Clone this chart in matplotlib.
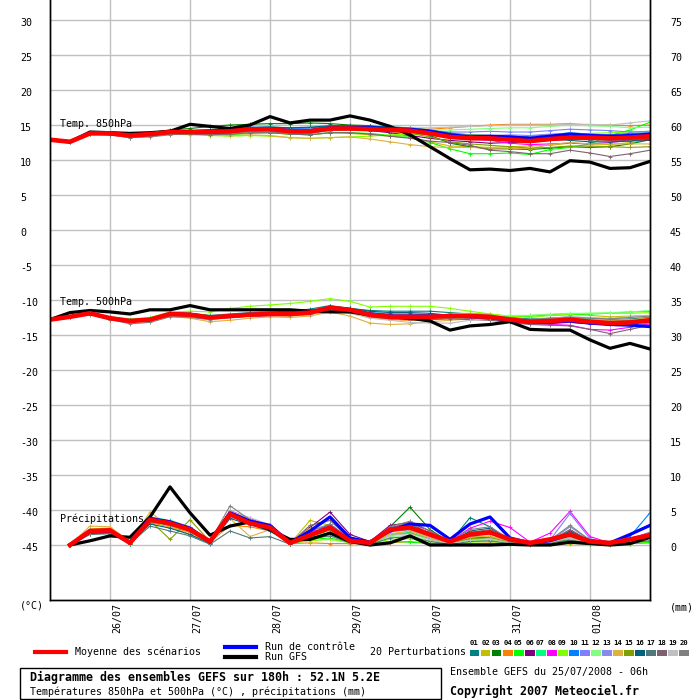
import matplotlib
matplotlib.use('Agg')
import matplotlib.pyplot as plt
from matplotlib.lines import Line2D
from matplotlib.patches import Rectangle
from matplotlib.transforms import ScaledTranslation

plt.rcParams['font.family'] = ['DejaVu Sans Mono']
plt.rcParams['axes.unicode_minus'] = False

# echeances en heures depuis le 25/07/2008 06h
hours = list(range(0, 181, 6))
hours_rr = hours[1:]
days = ['26/07', '27/07', '28/07', '29/07', '30/07', '31/07', '01/08']

colors = ['#008080', '#c0c000', '#008000', '#ff8000', '#00ff00', '#800080', '#00ff80',
          '#ff00ff', '#80ff00', '#0080ff', '#8080ff', '#80ff80', '#8888ee', '#e0b040',
          '#80a000', '#006080', '#507878', '#806070', '#c0c0c0', '#808080']

# --- 850 hPa (°C)
t850_mean = [12.9, 12.6, 13.8, 13.8, 13.5, 13.7, 14.0, 14.0, 14.0, 14.1, 14.4, 14.4, 14.1, 14.1, 14.5, 14.5,
             14.4, 14.3, 14.2, 13.8, 13.3, 13.1, 13.1, 12.9, 12.7, 13.0, 13.2, 13.2, 13.1, 13.2, 13.4]
t850_ctrl = [12.9, 12.6, 13.8, 13.8, 13.5, 13.7, 14.0, 14.0, 14.1, 14.2, 14.4, 14.5, 14.2, 14.2, 14.6, 14.6,
             14.6, 14.5, 14.4, 14.1, 13.6, 13.3, 13.4, 13.3, 13.1, 13.4, 13.7, 13.5, 13.4, 13.5, 13.7]
t850_gfs = [12.9, 12.6, 14.0, 13.9, 13.8, 13.9, 14.1, 15.1, 14.8, 14.5, 15.0, 16.2, 15.3, 15.7, 15.7, 16.3,
            15.7, 14.8, 13.6, 11.9, 10.2, 8.6, 8.7, 8.5, 8.8, 8.3, 9.9, 9.7, 8.8, 8.9, 9.8]
t850_pert = [
    [12.9, 12.7, 13.9, 13.9, 13.6, 13.8, 14.1, 14.2, 14.3, 14.4, 14.6, 14.7, 14.6, 14.6, 14.8, 14.9, 14.8, 14.7, 14.6, 14.3, 13.8, 13.6, 13.5, 13.3, 13.1, 13.3, 13.4, 13.2, 12.9, 12.8, 13.0],
    [12.9, 12.6, 13.8, 13.7, 13.4, 13.6, 13.9, 13.8, 13.7, 13.8, 14.0, 13.9, 13.7, 13.6, 13.9, 13.8, 13.6, 13.4, 13.2, 12.6, 12.0, 11.9, 11.8, 11.9, 12.0, 12.1, 12.4, 12.3, 12.2, 12.5, 12.9],
    [12.9, 12.7, 13.9, 13.9, 13.7, 13.9, 14.3, 14.5, 14.8, 15.0, 15.1, 15.2, 15.2, 15.3, 15.2, 15.0, 14.9, 14.6, 14.3, 13.5, 12.4, 11.9, 11.6, 11.6, 11.5, 11.7, 11.9, 11.8, 11.9, 12.3, 12.9],
    [12.9, 12.6, 13.8, 13.8, 13.5, 13.6, 13.9, 13.9, 13.8, 13.9, 14.2, 14.3, 14.2, 14.3, 14.5, 14.6, 14.6, 14.5, 14.4, 14.4, 14.6, 14.8, 15.0, 15.1, 15.1, 15.1, 15.2, 15.0, 15.0, 14.9, 15.0],
    [12.9, 12.6, 13.8, 13.8, 13.5, 13.6, 13.8, 13.9, 13.8, 13.6, 13.8, 13.9, 13.7, 13.6, 13.9, 13.9, 13.8, 13.5, 13.4, 12.5, 11.6, 10.9, 10.9, 11.0, 10.8, 11.5, 11.8, 12.3, 13.5, 14.3, 15.4],
    [12.9, 12.7, 13.8, 13.8, 13.5, 13.7, 14.0, 14.0, 14.1, 14.2, 14.5, 14.5, 14.3, 14.3, 14.5, 14.4, 14.2, 13.9, 13.5, 13.1, 12.8, 12.6, 12.4, 12.5, 12.6, 12.8, 13.0, 12.9, 13.0, 12.8, 12.9],
    [12.9, 12.6, 13.8, 13.8, 13.6, 13.8, 14.1, 14.1, 14.2, 14.2, 14.4, 14.4, 14.2, 14.2, 14.5, 14.5, 14.4, 14.3, 14.3, 14.2, 13.9, 13.6, 13.4, 13.2, 13.0, 13.3, 13.5, 13.6, 13.4, 13.3, 13.5],
    [12.9, 12.7, 13.8, 13.9, 13.6, 13.8, 14.0, 14.0, 14.1, 14.3, 14.5, 14.6, 14.4, 14.3, 14.7, 14.8, 14.7, 14.5, 14.4, 14.0, 13.4, 13.0, 12.8, 12.4, 12.2, 12.3, 12.4, 12.3, 12.5, 12.8, 13.0],
    [12.9, 12.6, 13.7, 13.7, 13.4, 13.5, 13.7, 13.6, 13.5, 13.4, 13.5, 13.4, 13.2, 13.1, 13.2, 13.3, 13.4, 13.6, 13.7, 13.6, 13.4, 13.3, 13.4, 13.5, 13.4, 13.6, 13.7, 13.8, 13.9, 14.0, 14.1],
    [12.9, 12.7, 13.9, 13.9, 13.6, 13.8, 14.1, 14.2, 14.3, 14.4, 14.7, 14.7, 14.5, 14.5, 14.8, 14.8, 14.7, 14.6, 14.5, 14.1, 13.6, 13.3, 13.3, 13.2, 13.4, 13.6, 13.9, 13.7, 13.6, 13.8, 13.9],
    [12.9, 12.6, 13.8, 13.8, 13.5, 13.7, 14.0, 14.1, 14.1, 14.2, 14.5, 14.6, 14.4, 14.4, 14.7, 14.7, 14.6, 14.5, 14.4, 14.2, 14.0, 14.0, 14.1, 14.0, 14.0, 14.2, 14.4, 14.3, 14.2, 14.0, 14.1],
    [12.9, 12.6, 13.8, 13.7, 13.4, 13.6, 13.9, 13.9, 13.9, 14.0, 14.2, 14.2, 14.0, 14.0, 14.3, 14.3, 14.3, 14.3, 14.4, 14.3, 14.3, 14.4, 14.5, 14.6, 14.6, 14.8, 15.0, 14.9, 14.8, 14.6, 14.7],
    [12.9, 12.7, 13.8, 13.8, 13.6, 13.7, 14.0, 14.1, 14.1, 14.2, 14.4, 14.5, 14.3, 14.3, 14.6, 14.6, 14.5, 14.4, 14.2, 13.9, 13.6, 13.4, 13.5, 13.6, 13.5, 13.7, 13.8, 13.7, 13.5, 13.6, 13.7],
    [12.9, 12.6, 13.7, 13.7, 13.3, 13.5, 13.7, 13.8, 13.6, 13.5, 13.6, 13.5, 13.2, 13.1, 13.2, 13.3, 13.0, 12.6, 12.2, 11.9, 11.8, 11.8, 11.7, 11.7, 11.6, 12.2, 12.5, 12.3, 12.3, 12.3, 12.3],
    [12.9, 12.6, 13.8, 13.8, 13.5, 13.6, 13.9, 14.0, 13.9, 14.0, 14.3, 14.2, 14.1, 14.1, 14.4, 14.5, 14.4, 14.1, 13.8, 13.3, 12.6, 12.3, 12.1, 11.9, 11.7, 11.8, 12.0, 12.0, 11.9, 11.8, 11.9],
    [12.9, 12.7, 13.9, 13.9, 13.6, 13.8, 14.1, 14.2, 14.3, 14.4, 14.6, 14.7, 14.6, 14.7, 14.9, 14.9, 14.8, 14.7, 14.6, 14.3, 13.8, 13.5, 13.2, 13.1, 12.9, 13.0, 12.8, 12.6, 12.6, 12.7, 13.0],
    [12.9, 12.6, 13.8, 13.7, 13.4, 13.6, 13.9, 14.0, 14.0, 14.0, 14.3, 14.3, 14.1, 14.0, 14.3, 14.4, 14.3, 14.2, 14.0, 13.6, 13.2, 13.0, 12.9, 12.8, 12.6, 12.8, 13.0, 12.9, 12.8, 12.9, 13.1],
    [12.9, 12.6, 13.7, 13.6, 13.2, 13.4, 13.7, 13.7, 13.6, 13.7, 13.9, 13.9, 13.7, 13.6, 13.9, 13.9, 13.7, 13.4, 13.1, 12.7, 12.5, 12.1, 11.4, 11.2, 10.9, 10.9, 11.4, 11.0, 10.5, 10.9, 11.4],
    [12.9, 12.6, 13.8, 13.8, 13.5, 13.6, 13.9, 13.9, 14.0, 14.1, 14.3, 14.4, 14.3, 14.4, 14.6, 14.6, 14.6, 14.6, 14.6, 14.6, 14.7, 14.8, 14.9, 15.0, 15.0, 15.0, 15.1, 15.1, 15.0, 15.3, 15.6],
    [12.9, 12.6, 13.7, 13.6, 13.2, 13.3, 13.6, 13.8, 13.7, 13.8, 14.1, 14.0, 13.8, 13.8, 14.2, 14.3, 14.3, 14.2, 14.1, 13.9, 13.7, 13.6, 13.5, 13.3, 13.2, 13.4, 13.5, 13.4, 13.4, 13.5, 13.6],
]

# --- 500 hPa (°C)
t500_mean = [-12.8, -12.4, -11.9, -12.6, -13.0, -12.8, -12.0, -12.1, -12.5, -12.3, -12.1, -12.0, -12.0, -11.8, -11.1, -11.4,
             -12.1, -12.4, -12.4, -12.4, -12.3, -12.3, -12.4, -12.8, -13.1, -13.0, -12.8, -13.1, -13.3, -13.2, -12.9]
t500_ctrl = [-12.8, -12.4, -11.9, -12.6, -13.0, -12.8, -12.0, -12.1, -12.5, -12.3, -12.1, -12.0, -12.0, -11.8, -11.1, -11.4,
             -12.0, -12.3, -12.3, -12.3, -12.3, -12.4, -12.5, -12.9, -13.2, -13.2, -13.0, -13.3, -13.5, -13.6, -13.8]
t500_gfs = [-12.8, -11.8, -11.5, -11.7, -12.0, -11.4, -11.4, -10.8, -11.4, -11.4, -11.4, -11.4, -11.4, -11.6, -11.7, -11.7,
            -12.1, -12.4, -12.6, -13.0, -14.3, -13.7, -13.5, -13.1, -14.2, -14.3, -14.3, -15.7, -16.9, -16.2, -17.0]
t500_pert = [
    [-12.8, -12.4, -11.9, -12.5, -12.8, -12.6, -11.8, -11.9, -12.2, -12.0, -11.8, -11.7, -11.6, -11.3, -10.8, -11.2, -11.5, -11.6, -11.6, -11.6, -11.8, -12.0, -12.2, -12.5, -12.7, -12.6, -12.4, -12.6, -12.8, -12.7, -12.5],
    [-12.8, -12.4, -12.0, -12.7, -13.1, -12.9, -12.2, -12.3, -12.6, -12.4, -12.3, -12.2, -12.3, -12.1, -11.5, -11.8, -12.4, -12.6, -12.5, -12.3, -12.0, -11.9, -12.0, -12.4, -12.2, -12.1, -12.0, -12.2, -12.4, -12.3, -12.2],
    [-12.8, -12.4, -11.9, -12.6, -12.9, -12.7, -12.0, -12.0, -12.4, -12.2, -12.0, -11.9, -11.8, -11.6, -11.0, -11.3, -11.9, -12.2, -12.3, -12.2, -12.5, -12.7, -12.8, -13.0, -13.0, -12.9, -12.8, -13.0, -13.2, -13.1, -12.9],
    [-12.8, -12.4, -12.0, -12.7, -13.0, -12.9, -12.1, -12.2, -12.6, -12.4, -12.2, -12.1, -12.1, -11.9, -11.2, -11.7, -12.5, -12.8, -12.9, -12.8, -12.6, -12.5, -12.4, -12.7, -12.9, -12.8, -12.7, -13.0, -13.1, -13.0, -12.8],
    [-12.8, -12.3, -11.9, -12.5, -12.8, -12.7, -12.0, -12.1, -12.4, -12.2, -12.1, -12.0, -11.9, -11.7, -11.1, -11.4, -12.0, -12.3, -12.4, -12.2, -12.1, -12.2, -12.4, -12.4, -12.3, -12.2, -12.1, -12.0, -11.9, -11.7, -11.6],
    [-12.8, -12.4, -11.9, -12.6, -13.0, -12.8, -12.1, -12.2, -12.5, -12.3, -12.2, -12.1, -12.0, -11.9, -11.3, -11.6, -12.2, -12.5, -12.6, -12.5, -12.5, -12.6, -12.7, -13.0, -13.3, -13.3, -13.2, -13.4, -13.5, -13.4, -13.2],
    [-12.8, -12.4, -11.9, -12.5, -12.9, -12.7, -12.0, -12.0, -12.3, -12.1, -12.0, -11.9, -11.9, -11.7, -11.0, -11.3, -12.0, -12.3, -12.2, -12.1, -12.2, -12.3, -12.4, -12.6, -12.9, -12.7, -12.5, -12.7, -12.9, -12.9, -12.7],
    [-12.8, -12.4, -11.9, -12.6, -13.0, -12.8, -12.0, -12.1, -12.4, -12.2, -12.1, -12.0, -12.0, -11.8, -11.2, -11.5, -12.0, -12.2, -12.3, -12.4, -12.5, -12.6, -12.7, -13.0, -13.4, -13.5, -13.6, -14.2, -14.3, -13.9, -13.4],
    [-12.8, -12.3, -11.8, -12.4, -12.7, -12.5, -11.7, -11.6, -11.7, -11.2, -10.9, -10.7, -10.5, -10.2, -9.8, -10.2, -11.0, -10.9, -10.9, -10.9, -11.2, -11.6, -12.0, -12.3, -12.5, -12.2, -12.0, -11.9, -11.9, -11.9, -11.8],
    [-12.8, -12.4, -11.9, -12.5, -12.9, -12.7, -12.0, -12.0, -12.4, -12.2, -12.0, -11.9, -11.8, -11.6, -11.0, -11.3, -11.8, -12.0, -12.0, -12.1, -12.3, -12.4, -12.5, -12.8, -13.1, -13.1, -13.0, -13.2, -13.4, -13.3, -13.1],
    [-12.8, -12.4, -12.0, -12.7, -13.1, -12.9, -12.2, -12.3, -12.6, -12.5, -12.3, -12.2, -12.2, -12.0, -11.4, -11.7, -12.3, -12.6, -12.7, -12.7, -12.6, -12.5, -12.6, -12.9, -13.2, -13.2, -13.1, -13.3, -13.6, -13.5, -13.3],
    [-12.8, -12.4, -11.9, -12.5, -12.8, -12.6, -11.9, -12.0, -12.3, -12.1, -11.9, -11.8, -11.8, -11.6, -11.0, -11.3, -12.0, -12.4, -12.5, -12.6, -12.7, -12.6, -12.3, -12.2, -12.2, -12.0, -11.9, -11.9, -11.8, -11.7, -11.5],
    [-12.8, -12.4, -11.9, -12.6, -13.0, -12.8, -12.0, -12.1, -12.5, -12.3, -12.1, -12.0, -11.9, -11.8, -11.1, -11.4, -12.0, -12.3, -12.3, -12.2, -12.2, -12.3, -12.4, -12.8, -13.0, -12.9, -12.8, -13.0, -13.2, -13.1, -12.9],
    [-12.8, -12.5, -12.0, -12.8, -13.2, -13.0, -12.3, -12.6, -13.1, -12.9, -12.6, -12.4, -12.5, -12.3, -11.7, -12.3, -13.3, -13.5, -13.4, -13.1, -12.9, -12.7, -12.5, -12.6, -12.9, -12.8, -12.6, -12.8, -12.9, -12.8, -12.6],
    [-12.8, -12.4, -12.0, -12.6, -13.0, -12.8, -12.1, -12.2, -12.5, -12.3, -12.2, -12.1, -12.1, -11.9, -11.3, -11.6, -12.2, -12.4, -12.4, -12.4, -12.3, -12.3, -12.4, -12.7, -13.0, -12.9, -12.7, -12.9, -13.1, -13.0, -12.8],
    [-12.8, -12.4, -11.9, -12.5, -12.8, -12.7, -11.9, -11.9, -12.3, -12.1, -11.9, -11.8, -11.7, -11.5, -10.9, -11.2, -11.6, -11.8, -11.8, -11.9, -12.2, -12.4, -12.6, -12.9, -13.0, -12.9, -12.9, -13.1, -13.3, -13.2, -13.0],
    [-12.8, -12.4, -12.0, -12.7, -13.1, -12.9, -12.2, -12.3, -12.6, -12.4, -12.3, -12.2, -12.2, -12.0, -11.4, -11.7, -12.3, -12.5, -12.5, -12.5, -12.4, -12.4, -12.5, -12.8, -13.1, -13.0, -12.9, -13.1, -13.3, -13.1, -12.9],
    [-12.8, -12.4, -12.0, -12.7, -13.1, -12.9, -12.2, -12.3, -12.7, -12.5, -12.3, -12.2, -12.2, -12.0, -11.4, -11.8, -12.4, -12.7, -12.8, -12.8, -12.7, -12.8, -12.9, -13.2, -13.5, -13.6, -13.7, -14.2, -14.8, -14.2, -13.6],
    [-12.8, -12.4, -12.0, -12.7, -13.1, -12.9, -12.2, -12.3, -12.6, -12.4, -12.3, -12.2, -12.2, -12.1, -11.5, -11.9, -12.6, -12.9, -13.2, -13.3, -13.3, -12.9, -12.6, -12.7, -12.8, -12.6, -12.4, -12.5, -12.6, -12.4, -12.2],
    [-12.8, -12.5, -12.1, -12.8, -13.4, -13.2, -12.4, -12.5, -12.8, -12.5, -12.3, -12.2, -12.2, -12.0, -11.3, -11.6, -12.2, -12.4, -12.4, -12.3, -12.2, -12.2, -12.3, -12.6, -12.8, -12.6, -12.5, -12.6, -12.7, -12.5, -12.3],
]

# --- precipitations (mm / 6h)
rr_mean = [0.0, 2.0, 2.1, 0.3, 3.6, 3.1, 2.2, 0.5, 4.4, 3.1, 2.5, 0.3, 1.4, 2.5, 0.6,
           0.3, 2.2, 2.5, 1.5, 0.5, 1.5, 1.8, 0.8, 0.3, 0.8, 1.5, 0.5, 0.3, 0.8, 1.4]
rr_ctrl = [0.0, 1.9, 2.0, 0.4, 3.8, 3.3, 2.4, 0.4, 4.6, 3.4, 2.8, 0.3, 2.0, 4.0, 1.0,
           0.4, 2.0, 3.0, 2.8, 0.8, 3.0, 4.0, 1.0, 0.3, 0.6, 1.5, 0.6, 0.3, 1.5, 2.8]
rr_gfs = [0.0, 0.6, 1.3, 1.1, 4.0, 8.3, 4.6, 1.4, 2.7, 3.3, 2.2, 0.8, 0.8, 1.7, 0.5,
          0.0, 0.3, 1.3, 0.0, 0.0, 0.0, 0.0, 0.1, 0.0, 0.0, 0.4, 0.2, 0.0, 0.2, 1.1]
rr_pert = [
    [0.0, 1.8, 1.9, 0.3, 3.5, 3.0, 2.0, 0.3, 4.2, 3.0, 2.2, 0.2, 1.2, 2.6, 0.4, 0.2, 2.4, 2.8, 1.5, 0.4, 3.9, 2.6, 0.6, 0.2, 0.5, 1.4, 0.4, 0.2, 0.6, 1.2],
    [0.0, 2.3, 2.4, 0.4, 3.8, 2.8, 1.8, 0.4, 4.8, 3.6, 2.6, 0.2, 3.5, 2.8, 0.6, 0.3, 2.0, 2.2, 1.0, 0.3, 1.0, 1.2, 0.5, 0.2, 0.6, 2.0, 0.6, 0.3, 0.8, 1.0],
    [0.0, 1.7, 1.8, 0.2, 3.3, 2.9, 2.3, 0.5, 4.6, 3.4, 2.4, 0.3, 1.0, 2.2, 0.4, 0.2, 2.6, 5.4, 2.2, 0.4, 1.2, 1.0, 0.3, 0.1, 0.4, 0.8, 0.2, 0.1, 0.4, 0.8],
    [0.0, 2.2, 2.2, 0.3, 3.2, 2.6, 1.8, 0.4, 2.8, 2.6, 2.0, 0.2, 0.3, 0.2, 0.2, 0.1, 0.3, 0.5, 0.2, 0.1, 0.2, 0.3, 0.2, 0.1, 0.1, 0.2, 0.2, 0.1, 0.2, 0.3],
    [0.0, 1.8, 2.0, 0.3, 3.6, 3.2, 2.4, 0.5, 4.5, 3.3, 2.6, 0.2, 0.8, 1.0, 0.3, 0.2, 0.5, 0.4, 0.2, 0.1, 0.2, 0.2, 0.1, 0.0, 0.2, 0.3, 0.1, 0.0, 0.2, 0.4],
    [0.0, 1.9, 2.0, 0.3, 3.7, 3.2, 2.5, 0.4, 4.4, 3.2, 2.4, 0.2, 2.5, 4.7, 1.5, 0.5, 2.8, 3.2, 2.0, 0.4, 1.8, 2.0, 0.6, 0.2, 0.6, 1.6, 0.5, 0.2, 0.8, 1.6],
    [0.0, 1.9, 2.0, 0.3, 4.0, 3.5, 2.6, 0.5, 4.7, 3.5, 2.8, 0.3, 1.4, 2.6, 0.6, 0.2, 1.6, 1.8, 0.9, 0.2, 0.8, 0.9, 0.4, 0.2, 0.5, 1.2, 0.4, 0.2, 0.6, 1.0],
    [0.0, 2.0, 2.1, 0.4, 3.6, 3.1, 2.3, 0.5, 4.9, 3.8, 2.7, 0.3, 1.8, 2.9, 0.7, 0.3, 2.2, 2.6, 1.8, 0.5, 2.4, 3.4, 2.5, 0.4, 1.7, 4.8, 1.2, 0.3, 0.9, 1.8],
    [0.0, 1.6, 1.8, 0.2, 3.4, 2.7, 2.0, 0.3, 4.3, 3.0, 2.3, 0.2, 0.6, 0.8, 0.3, 0.2, 0.8, 0.9, 0.3, 0.1, 0.4, 0.5, 0.2, 0.1, 0.3, 0.6, 0.2, 0.1, 0.3, 0.5],
    [0.0, 2.0, 2.0, 0.3, 3.9, 3.4, 2.5, 0.4, 4.5, 3.3, 2.6, 0.3, 1.6, 3.0, 0.8, 0.3, 2.5, 3.0, 1.6, 0.4, 1.6, 2.0, 0.6, 0.2, 0.5, 1.8, 0.5, 0.2, 1.2, 4.6],
    [0.0, 1.9, 2.0, 0.3, 3.5, 3.0, 2.2, 0.4, 4.4, 3.1, 2.5, 0.2, 1.5, 2.7, 0.6, 0.2, 2.0, 2.4, 1.3, 0.3, 1.5, 1.8, 0.6, 0.2, 0.7, 4.5, 0.9, 0.2, 0.7, 1.4],
    [0.0, 1.8, 1.9, 0.3, 3.7, 3.1, 2.1, 0.4, 4.6, 3.4, 2.7, 0.2, 1.2, 1.8, 0.4, 0.2, 1.2, 1.4, 0.6, 0.2, 0.6, 0.7, 0.3, 0.1, 0.4, 0.9, 0.3, 0.1, 0.4, 0.7],
    [0.0, 2.1, 2.2, 0.3, 3.3, 2.9, 2.0, 0.4, 4.2, 3.0, 2.4, 0.2, 1.6, 2.8, 0.7, 0.3, 1.9, 2.2, 1.2, 0.3, 1.3, 1.6, 0.5, 0.2, 0.6, 2.6, 0.7, 0.2, 0.6, 1.2],
    [0.0, 2.7, 2.6, 0.4, 4.7, 2.6, 1.5, 0.4, 3.8, 1.2, 2.2, 0.2, 2.4, 2.0, 0.5, 0.2, 1.6, 2.0, 1.0, 0.3, 1.1, 1.3, 0.4, 0.2, 0.5, 2.2, 0.6, 0.2, 0.5, 0.9],
    [0.0, 1.7, 1.8, 0.3, 3.5, 0.8, 3.6, 0.5, 4.5, 3.2, 2.4, 0.2, 1.2, 2.2, 0.5, 0.2, 1.4, 1.7, 0.8, 0.2, 0.9, 1.0, 0.4, 0.1, 0.4, 1.0, 0.3, 0.1, 0.5, 0.8],
    [0.0, 1.6, 1.7, 0.2, 3.0, 2.4, 1.5, 0.2, 3.8, 2.9, 2.0, 0.2, 1.3, 2.4, 0.6, 0.2, 2.2, 2.6, 1.6, 0.4, 2.0, 2.4, 0.8, 0.2, 0.6, 2.0, 0.6, 0.2, 0.8, 1.6],
    [0.0, 1.5, 1.6, 0.2, 2.7, 2.0, 1.3, 0.1, 2.0, 1.0, 1.2, 0.1, 0.9, 1.3, 0.3, 0.1, 1.0, 1.2, 0.5, 0.1, 0.5, 0.6, 0.2, 0.1, 0.3, 0.7, 0.2, 0.1, 0.3, 0.6],
    [0.0, 1.9, 2.0, 0.3, 3.4, 2.8, 2.0, 0.3, 4.1, 3.0, 2.3, 0.2, 2.8, 3.5, 0.9, 0.3, 2.4, 3.2, 1.6, 0.4, 1.8, 2.2, 0.6, 0.2, 0.6, 2.2, 0.6, 0.2, 0.6, 1.2],
    [0.0, 1.8, 1.9, 0.3, 3.6, 3.3, 2.6, 0.4, 4.8, 3.9, 2.9, 0.3, 1.6, 2.4, 0.5, 0.2, 1.4, 1.6, 0.8, 0.2, 0.7, 0.9, 0.3, 0.1, 0.4, 1.0, 0.3, 0.1, 0.4, 0.8],
    [0.0, 2.1, 2.2, 0.4, 3.9, 3.4, 2.4, 0.5, 5.6, 3.6, 2.8, 0.3, 2.0, 3.0, 0.8, 0.3, 2.6, 3.4, 2.0, 0.5, 2.2, 2.6, 0.8, 0.2, 0.7, 2.8, 0.7, 0.2, 0.8, 1.8],
]

W, H = 700, 700


def fxy(x, y):
    # pixels -> coordonnees figure
    return x / W, 1 - y / H


fig = plt.figure(figsize=(7, 7), dpi=100)
ax = fig.add_axes([50 / W, 100 / H, 600 / W, 600 / H])
ax.set_xlim(0, 180)
ax.set_ylim(-52.86, 32.86)
ax2 = ax.twinx()
ax2.set_ylim(-52.86 + 45, 32.86 + 45)

# grille
first_midnight = 24 - 6
ax.set_xticks([first_midnight + 24 * i for i in range(len(days))])
ax.set_xticklabels(days)
ax.set_yticks(range(-45, 31, 5))
ax.grid(True, color='#c0c0c0', lw=1.0)
ax.set_axisbelow(True)
ax2.set_yticks(range(0, 76, 5))

ax.tick_params(axis='y', length=0, pad=21.6, labelsize=7.2)
ax.tick_params(axis='x', length=0, pad=2, labelsize=7.2, labelrotation=90)
ax2.tick_params(axis='y', length=0, pad=14.4, labelsize=7.2)
down = ScaledTranslation(0, -2 / 100, fig.dpi_scale_trans)
for lbl in ax.get_yticklabels():
    lbl.set_ha('left')
    lbl.set_transform(lbl.get_transform() + down)
for lbl in ax2.get_yticklabels():
    lbl.set_transform(lbl.get_transform() + down)
right = ScaledTranslation(7 / 100, 0, fig.dpi_scale_trans)
for lbl in ax.get_xticklabels():
    lbl.set_transform(lbl.get_transform() + right)

for a in (ax, ax2):
    a.spines['top'].set_visible(False)
    for s in ('left', 'right', 'bottom'):
        a.spines[s].set_color('black')
        a.spines[s].set_linewidth(1.0)

# perturbations
for i in range(20):
    kw = dict(color=colors[i], lw=0.8, marker='+', ms=3, mew=0.6)
    ax.plot(hours, t850_pert[i], **kw)
    ax.plot(hours, t500_pert[i], **kw)
    ax2.plot(hours_rr, rr_pert[i], **kw)

# run GFS, controle, moyenne
ax.plot(hours, t850_gfs, color='black', lw=2.3)
ax.plot(hours, t500_gfs, color='black', lw=2.3)
ax2.plot(hours_rr, rr_gfs, color='black', lw=2.3)
ax.plot(hours, t850_ctrl, color='#0000ff', lw=2.3)
ax.plot(hours, t500_ctrl, color='#0000ff', lw=2.3)
ax2.plot(hours_rr, rr_ctrl, color='#0000ff', lw=2.3)
ax.plot(hours, t850_mean, color='#ff0000', lw=3.3)
ax.plot(hours, t500_mean, color='#ff0000', lw=3.3)
ax2.plot(hours_rr, rr_mean, color='#ff0000', lw=3.3)

fs = 7.2
fig.text(*fxy(60, 124), 'Temp. 850hPa', fontsize=fs, va='center')
fig.text(*fxy(60, 302), 'Temp. 500hPa', fontsize=fs, va='center')
fig.text(*fxy(60, 519), 'Précipitations', fontsize=fs, va='center')
fig.text(*fxy(20, 606), '(°C)', fontsize=fs, va='center')
fig.text(*fxy(670, 607), '(mm)', fontsize=fs, va='center')

# legende
fig.add_artist(Line2D([35 / W, 66 / W], [1 - 652 / H] * 2, color='#ff0000', lw=3.0))
fig.text(*fxy(75, 652), 'Moyenne des scénarios', fontsize=fs, va='center')
fig.add_artist(Line2D([225 / W, 256 / W], [1 - 647 / H] * 2, color='#0000ff', lw=3.0))
fig.add_artist(Line2D([225 / W, 256 / W], [1 - 657 / H] * 2, color='black', lw=3.0))
fig.text(*fxy(265, 647), 'Run de contrôle', fontsize=fs, va='center')
fig.text(*fxy(265, 657), 'Run GFS', fontsize=fs, va='center')
fig.text(*fxy(370, 652), '20 Perturbations', fontsize=fs, va='center')
for i in range(20):
    x0 = 469.5 + 11 * i
    fig.add_artist(Rectangle(fxy(x0, 656), 10 / W, 6 / H, transform=fig.transFigure,
                             facecolor=colors[i], edgecolor='none'))
    fig.text(*fxy(x0 + 5, 643), '%02d' % (i + 1), fontsize=5.2, fontweight='bold',
             ha='center', va='center')

# cadre titre
fig.add_artist(Rectangle(fxy(20, 699), 421 / W, 31.5 / H, transform=fig.transFigure,
                         facecolor='none', edgecolor='black', lw=1.0))
fig.text(*fxy(30, 677), 'Diagramme des ensembles GEFS sur 180h : 52.1N 5.2E',
         fontsize=8.35, fontweight='bold', va='center')
fig.text(*fxy(30, 691.5), 'Températures 850hPa et 500hPa (°C) , précipitations (mm)',
         fontsize=fs, va='center')
fig.text(*fxy(450, 672), 'Ensemble GEFS du 25/07/2008 - 06h', fontsize=fs, va='center')
fig.text(*fxy(450, 691.5), 'Copyright 2007 Meteociel.fr', fontsize=8.4, fontweight='bold',
         va='center')

fig.savefig('out.png', dpi=100)
